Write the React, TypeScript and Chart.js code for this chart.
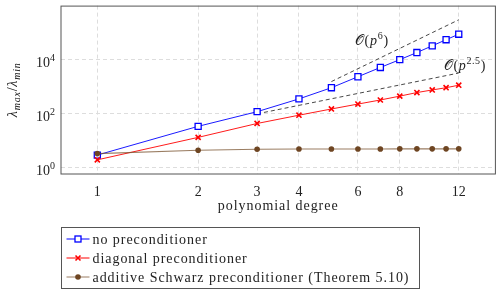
import React, { useEffect, useRef } from "react";
import { Chart, registerables } from "chart.js";

Chart.register(...registerables);

const degrees = [1, 2, 3, 4, 5, 6, 7, 8, 9, 10, 11, 12];
const noPrecond = [3.0, 34.5, 120, 355, 920, 2340, 5150, 10000, 18300, 32400, 54500, 87000];
const diagPrecond = [2.0, 13.5, 44, 89, 151, 229, 324, 450, 610, 760, 920, 1140];
const schwarzPrecond = [3.4, 4.5, 4.9, 5.0, 5.0, 5.0, 5.0, 5.1, 5.1, 5.1, 5.1, 5.1];

const rate6X = [5, 12];
const rate6Y = [1550, 296000];
const rate25X = [3, 12];
const rate25Y = [100, 3200];

const rate6LabelAt = [5.87, 50000];
const rate25LabelAt = [10.84, 5750];

const xTicks = [1, 2, 3, 4, 6, 8, 12];
const yTicks = [1, 100, 10000];
const yTickExps = ["0", "2", "4"];

const seriesNames = [
  "no preconditioner",
  "diagonal preconditioner",
  "additive Schwarz preconditioner (Theorem 5.10)",
];
const xTitle = "polynomial degree";

const FAMILY = "'Liberation Serif', 'DejaVu Serif', serif";
const BLUE = "#0000ff";
const RED = "#ff0000";
const BROWN = "#6e4522";
const BROWN_LINE = "rgba(120,82,45,0.75)";

type Part = { t: string; size: number; italic?: boolean; dy?: number; family?: string };

function setSpacing(ctx: any, px: number) {
  if ("letterSpacing" in ctx) ctx.letterSpacing = `${px}px`;
}

function richWidth(ctx: CanvasRenderingContext2D, parts: Part[], sp = 0) {
  let w = 0;
  setSpacing(ctx, sp);
  for (const p of parts) {
    ctx.font = `${p.italic ? "italic " : ""}${p.size}px ${p.family || FAMILY}`;
    w += ctx.measureText(p.t).width;
  }
  setSpacing(ctx, 0);
  return w;
}

function drawRich(ctx: CanvasRenderingContext2D, parts: Part[], x: number, y: number, sp = 0) {
  let cx = x;
  ctx.textBaseline = "alphabetic";
  ctx.textAlign = "left";
  setSpacing(ctx, sp);
  for (const p of parts) {
    ctx.font = `${p.italic ? "italic " : ""}${p.size}px ${p.family || FAMILY}`;
    ctx.fillText(p.t, cx, y + (p.dy || 0));
    cx += ctx.measureText(p.t).width;
  }
  setSpacing(ctx, 0);
}

const zip = (xs: number[], ys: number[]) => xs.map((x, i) => ({ x, y: ys[i] }));

const decorPlugin = {
  id: "decor",
  afterDraw(chart: any) {
    const ctx: CanvasRenderingContext2D = chart.ctx;
    const ca = chart.chartArea;
    const xs = chart.scales.x;
    const ys = chart.scales.y;
    ctx.save();
    // frame
    ctx.strokeStyle = "#555555";
    ctx.lineWidth = 1;
    ctx.strokeRect(ca.left, ca.top + 0.5, ca.right - ca.left, ca.bottom - ca.top - 0.5);

    ctx.fillStyle = "#222222";
    // y tick labels
    yTicks.forEach((v, i) => {
      const py = ys.getPixelForValue(v);
      const parts: Part[] = [
        { t: "10", size: 14 },
        { t: yTickExps[i], size: 10, dy: -6 },
      ];
      const w = richWidth(ctx, parts);
      drawRich(ctx, parts, ca.left - 6 - w, py + 7);
    });

    // x title
    setSpacing(ctx, 0.95);
    ctx.font = `14px ${FAMILY}`;
    ctx.textAlign = "center";
    ctx.textBaseline = "alphabetic";
    ctx.fillText(xTitle, (ca.left + ca.right) / 2, ca.bottom + 36);
    setSpacing(ctx, 0);

    // y title (rotated)
    const yParts: Part[] = [
      { t: "λ", size: 14, italic: true },
      { t: "max", size: 10, italic: true, dy: 3 },
      { t: "/", size: 14 },
      { t: "λ", size: 14, italic: true },
      { t: "min", size: 10, italic: true, dy: 3 },
    ];
    const yw = richWidth(ctx, yParts, 0.8);
    ctx.save();
    ctx.translate(17, (ca.top + ca.bottom) / 2);
    ctx.rotate(-Math.PI / 2);
    drawRich(ctx, yParts, -yw / 2, 0, 0.8);
    ctx.restore();

    // rate labels
    const r6: Part[] = [
      { t: "𝒪", size: 14, family: "'DejaVu Serif', serif" },
      { t: "(", size: 14 },
      { t: "p", size: 14, italic: true },
      { t: "6", size: 10, dy: -6 },
      { t: ")", size: 14 },
    ];
    drawRich(ctx, r6, xs.getPixelForValue(rate6LabelAt[0]), ys.getPixelForValue(rate6LabelAt[1]) + 4, 0.8);
    const r25: Part[] = [
      { t: "𝒪", size: 14, family: "'DejaVu Serif', serif" },
      { t: "(", size: 14 },
      { t: "p", size: 14, italic: true },
      { t: "2.5", size: 10, dy: -6 },
      { t: ")", size: 14 },
    ];
    drawRich(ctx, r25, xs.getPixelForValue(rate25LabelAt[0]), ys.getPixelForValue(rate25LabelAt[1]) + 4, 0.6);

    // legend
    const lx = ca.left + 0.5;
    const ly = 227.5;
    ctx.strokeStyle = "#555555";
    ctx.lineWidth = 1;
    ctx.strokeRect(lx, ly, 358, 61);
    const baselines = [243.5, 262.5, 281.5];
    const lineColors = [BLUE, RED, BROWN_LINE];
    chart.data.datasets.slice(0, 3).forEach((ds: any, i: number) => {
      const cy = baselines[i] - 4.5;
      ctx.strokeStyle = lineColors[i];
      ctx.lineWidth = 1;
      ctx.beginPath();
      ctx.moveTo(lx + 5, cy);
      ctx.lineTo(lx + 28, cy);
      ctx.stroke();
      const mx = lx + 16.5;
      if (i === 0) {
        ctx.fillStyle = "#ffffff";
        ctx.fillRect(mx - 3, cy - 3, 6, 6);
        ctx.strokeStyle = BLUE;
        ctx.lineWidth = 1.3;
        ctx.strokeRect(mx - 3, cy - 3, 6, 6);
      } else if (i === 1) {
        ctx.strokeStyle = RED;
        ctx.lineWidth = 1.6;
        ctx.beginPath();
        ctx.moveTo(mx - 2.5, cy - 2.5);
        ctx.lineTo(mx + 2.5, cy + 2.5);
        ctx.moveTo(mx + 2.5, cy - 2.5);
        ctx.lineTo(mx - 2.5, cy + 2.5);
        ctx.stroke();
      } else {
        ctx.fillStyle = BROWN;
        ctx.beginPath();
        ctx.arc(mx, cy, 2.8, 0, Math.PI * 2);
        ctx.fill();
      }
      ctx.fillStyle = "#222222";
      ctx.font = `14px ${FAMILY}`;
      ctx.textAlign = "left";
      ctx.textBaseline = "alphabetic";
      setSpacing(ctx, 0.95);
      ctx.fillText(ds.label, lx + 31, baselines[i]);
      setSpacing(ctx, 0);
    });
    ctx.restore();
  },
};

export default function App() {
  const ref = useRef<HTMLCanvasElement | null>(null);
  useEffect(() => {
    const canvas = ref.current!;
    const chart = new Chart(canvas, {
      type: "line",
      data: {
        datasets: [
          {
            label: seriesNames[0],
            data: zip(degrees, noPrecond),
            borderColor: BLUE,
            backgroundColor: "#ffffff",
            borderWidth: 0.9,
            pointStyle: "rect",
            pointRadius: 4.3,
            pointBorderWidth: 1.3,
            pointBorderColor: BLUE,
            pointBackgroundColor: "#ffffff",
            order: 3,
          },
          {
            label: seriesNames[1],
            data: zip(degrees, diagPrecond),
            borderColor: RED,
            borderWidth: 0.9,
            pointStyle: "crossRot",
            pointRadius: 3.6,
            pointBorderWidth: 1.6,
            pointBorderColor: RED,
            order: 2,
          },
          {
            label: seriesNames[2],
            data: zip(degrees, schwarzPrecond),
            borderColor: BROWN_LINE,
            borderWidth: 1.1,
            pointStyle: "circle",
            pointRadius: 2.8,
            pointBorderWidth: 0,
            pointBackgroundColor: BROWN,
            order: 1,
          },
          {
            label: "rate6",
            data: zip(rate6X, rate6Y),
            borderColor: "#333333",
            borderWidth: 0.9,
            borderDash: [4, 3],
            pointRadius: 0,
            order: 4,
          },
          {
            label: "rate25",
            data: zip(rate25X, rate25Y),
            borderColor: "#333333",
            borderWidth: 0.9,
            borderDash: [4, 3],
            pointRadius: 0,
            order: 4,
          },
        ],
      },
      options: {
        responsive: false,
        maintainAspectRatio: false,
        devicePixelRatio: 1,
        animation: false,
        layout: { padding: { top: 0, right: 1, left: 0, bottom: 0 } },
        plugins: { legend: { display: false }, tooltip: { enabled: false } },
        elements: { line: { tension: 0 } },
        scales: {
          x: {
            type: "logarithmic",
            min: 0.779,
            max: 15.44,
            afterBuildTicks: (s: any) => {
              s.ticks = xTicks.map((v) => ({ value: v }));
            },
            afterFit: (s: any) => {
              s.height = 115;
            },
            grid: { color: "#dddddd", lineWidth: 1, drawTicks: false },
            border: { display: false, dash: [4, 3] },
            ticks: {
              autoSkip: false,
              maxRotation: 0,
              padding: 10,
              color: "#222222",
              font: { family: FAMILY, size: 14 },
              callback: (v: any) => String(v),
            },
          },
          y: {
            type: "logarithmic",
            min: 0.627,
            max: 990000,
            afterBuildTicks: (s: any) => {
              s.ticks = yTicks.map((v) => ({ value: v }));
            },
            afterFit: (s: any) => {
              s.width = 61;
            },
            grid: { color: "#dddddd", lineWidth: 1, drawTicks: false },
            border: { display: false, dash: [4, 3] },
            ticks: { display: false },
          },
        },
      },
      plugins: [decorPlugin],
    } as any);
    return () => chart.destroy();
  }, []);
  return (
    <div style={{ position: "absolute", left: 0, top: 0, width: 501, height: 289, background: "#ffffff" }}>
      <canvas ref={ref} width={501} height={289} style={{ display: "block" }} />
    </div>
  );
}
